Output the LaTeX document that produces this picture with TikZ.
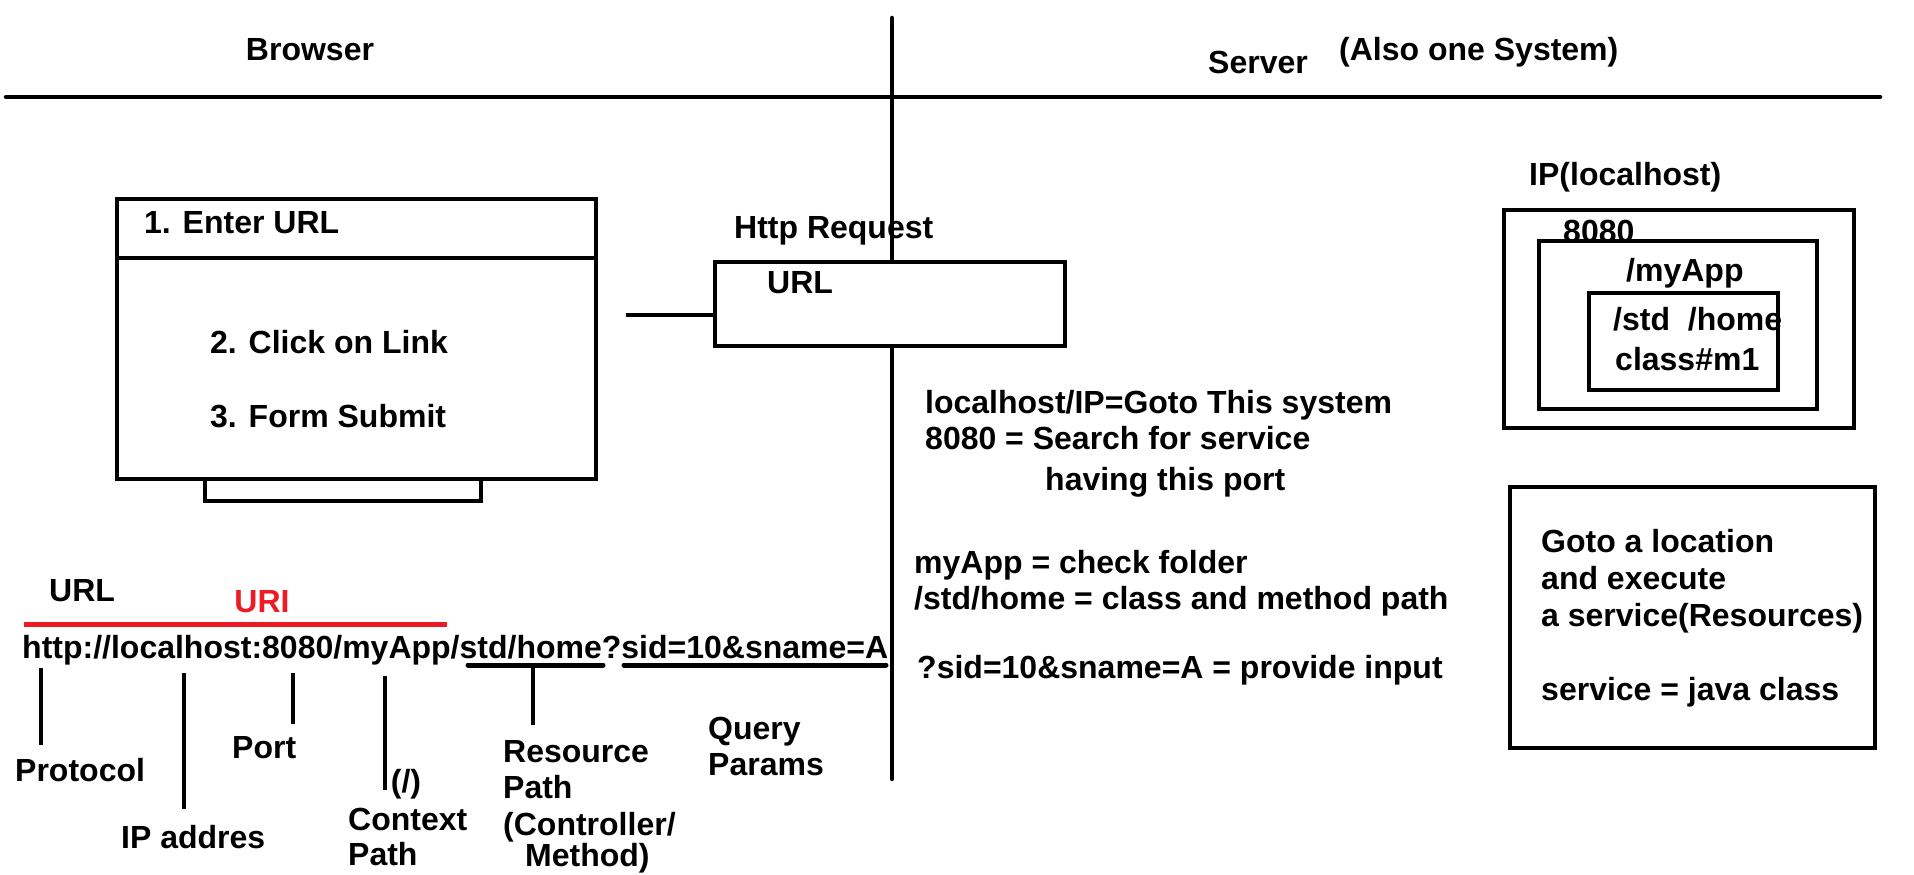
\documentclass[tikz,border=0pt]{standalone}
\usepackage{fontspec}
\setmainfont{Liberation Sans}
\definecolor{urired}{HTML}{ED1C24}
\tikzset{
  txt/.style={inner sep=0pt, font=\bfseries\fontsize{32}{37}\selectfont, anchor=base west},
  ln/.style={line width=4.5pt, line cap=round},
  tick/.style={line width=4pt},
  box/.style={draw, line width=4pt, fill=white, inner sep=0pt, anchor=north west},
  framebox/.style={draw, line width=4pt, inner sep=0pt, anchor=north west}
}
\begin{document}
\begin{tikzpicture}[x=1pt,y=-1pt]
\useasboundingbox (0,0) rectangle (1914,875);
% header
\node[txt, anchor=base] (browser) at (310,60) {Browser};
\node[txt] (server) at (1208,74) {Server};
\node[txt] (also) at (1339,61) {(Also one System)};
\coordinate (hl) at (6,97);
\coordinate (hr) at (1880,97);
\draw[ln] (hl) -- (hr);
% browser window
\node[box, minimum width=479pt, minimum height=280pt] (bwin) at (115,197) {};
\node[framebox, minimum width=276pt, minimum height=22pt] (stand) at (203,477) {};
\coordinate (dl) at (115,258);
\coordinate (dr) at (594,258);
\draw[line width=4pt] (dl) -- (dr);
\node[txt] (s1) at (144,233) {1. Enter URL};
\node[txt] (s2) at (210,353) {2. Click on Link};
\node[txt] (s3) at (210,427) {3. Form Submit};
% http request
\node[txt] (httpl) at (734,238) {Http Request};
\coordinate (vtop) at (892,18);
\coordinate (vbot) at (892,779);
\draw[ln] (vtop) -- (vbot);
\node[box, minimum width=350pt, minimum height=84pt] (http) at (713,260) {};
\node[txt] (httpurl) at (767,293) {URL};
\coordinate (cstart) at (626,315);
\draw[line width=4pt] (cstart) -- (cstart -| http.west);
% explanations
\node[txt] (e1) at (925,413) {localhost/IP=Goto This system};
\node[txt] (e2) at (925,449) {8080 = Search for service};
\node[txt] (e3) at (1045,490) {having this port};
\node[txt] (e4) at (914,573) {myApp = check folder};
\node[txt] (e5) at (914,609) {/std/home = class and method path};
\node[txt] (e6) at (917,678) {?sid=10\&sname=A = provide input};
% nested boxes
\node[txt] (ip) at (1529,185) {IP(localhost)};
\node[framebox, minimum width=350pt, minimum height=218pt] (outer) at (1502,208) {};
\node[txt] (port) at (1563,242) {8080};
\node[box, minimum width=278pt, minimum height=168pt] (middle) at (1537,239) {};
\node[txt] (myapp) at (1626,281) {/myApp};
\node[txt] (stdhome) at (1613,330) {/std\ \ /home};
\node[txt] (cls) at (1615,370) {class\#m1};
\node[framebox, minimum width=189pt, minimum height=97pt] (inner) at (1587,291) {};
% service box
\node[framebox, minimum width=365pt, minimum height=261pt] (svc) at (1508,485) {};
\node[txt] (g1) at (1541,552) {Goto a location};
\node[txt] (g2) at (1541,589) {and execute};
\node[txt] (g3) at (1541,626) {a service(Resources)};
\node[txt] (g4) at (1541,700) {service = java class};
% URL anatomy
\node[txt] (urllbl) at (49,601) {URL};
\node[txt, anchor=base, text=urired] (uri) at (262,612) {URI};
\coordinate (ril) at (24,624);
\coordinate (rir) at (447,624);
\draw[line width=5pt, urired] (ril) -- (rir);
\node[txt] (urlstr) at (22,658) {http://localhost:8080/myApp/std/home?sid=10\&sname=A};
\coordinate (u1l) at (468,665);
\coordinate (u1r) at (603,665);
\coordinate (u2l) at (624,665);
\coordinate (u2r) at (886,665);
\draw[line width=5pt, line cap=round] (u1l) -- (u1r);
\draw[line width=5pt, line cap=round] (u2l) -- (u2r);
\coordinate (rt) at (533,665);
\draw[tick] (rt) -- ++(0,60);
\coordinate (pt1) at (41,668);
\draw[tick] (pt1) -- ++(0,77);
\coordinate (pt2) at (184,673);
\draw[tick] (pt2) -- ++(0,136);
\coordinate (pt3) at (293,673);
\draw[tick] (pt3) -- ++(0,51);
\coordinate (pt4) at (385,676);
\draw[tick] (pt4) -- ++(0,114);
\node[txt] (proto) at (15,781) {Protocol};
\node[txt] (ipaddr) at (121,848) {IP addres};
\node[txt] (portl) at (232,758) {Port};
\node[txt, anchor=base] (slash) at (406,792) {(/)};
\node[txt] (ctx1) at (348,830) {Context};
\node[txt] (ctx2) at (348,865) {Path};
\node[txt] (res1) at (503,762) {Resource};
\node[txt] (res2) at (503,798) {Path};
\node[txt] (res3) at (503,835) {(Controller/};
\node[txt] (res4) at (525,866) {Method)};
\node[txt] (q1) at (708,739) {Query};
\node[txt] (q2) at (708,775) {Params};
\end{tikzpicture}
\end{document}
